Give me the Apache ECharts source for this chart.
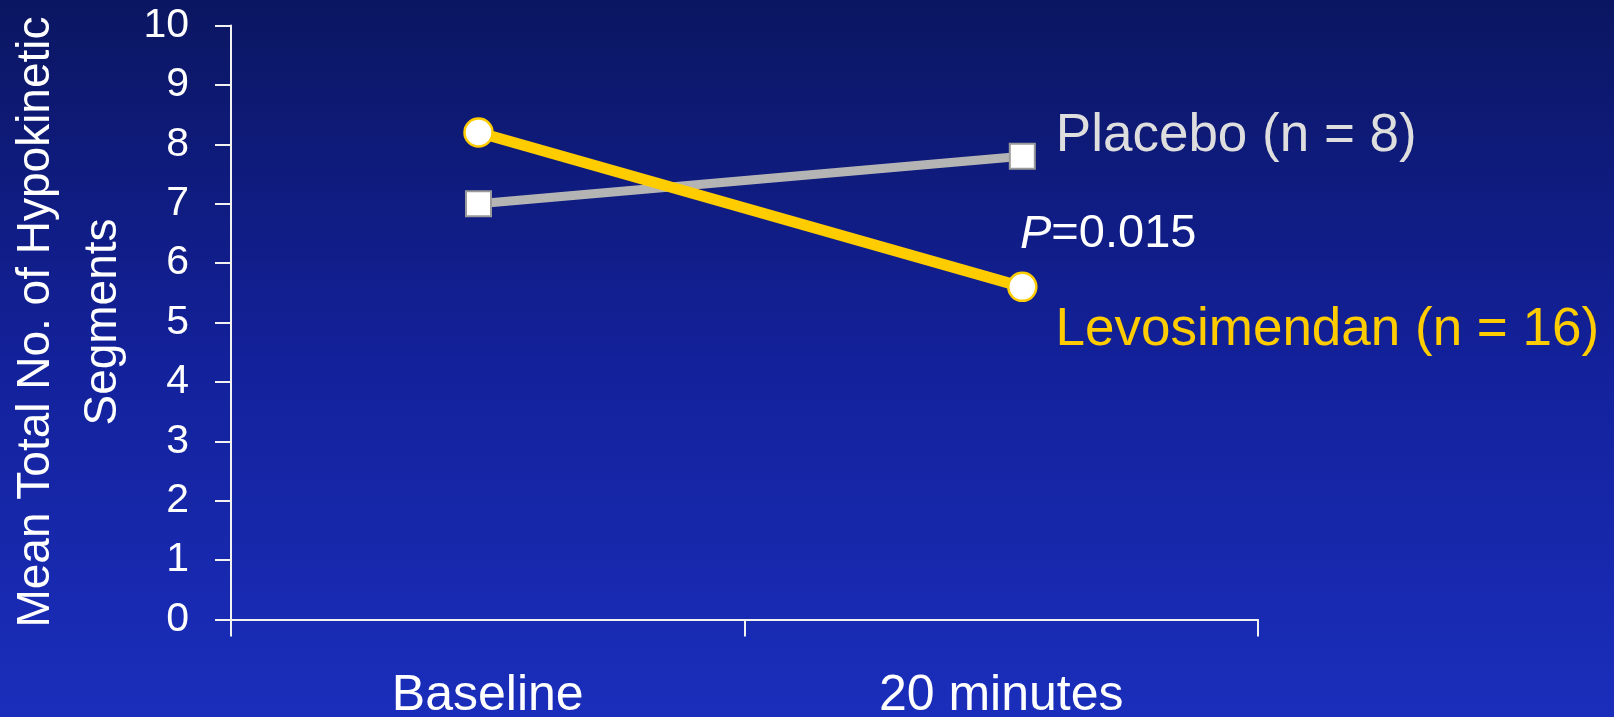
<!DOCTYPE html>
<html>
<head>
<meta charset="utf-8">
<title>Hypokinetic Segments</title>
<script src="https://cdn.jsdelivr.net/npm/echarts@6/dist/echarts.min.js"></script>
<style>
  html, body { margin: 0; padding: 0; }
  #chart { width: 1614px; height: 717px; }
</style>
</head>
<body>
<div id="chart"></div>
<script>
// Time points shown on the category axis
const categories = ['Baseline', '20 minutes'];
// Horizontal position of each measurement on a 0..2 time scale
const timePos = [0.482, 1.541];
// Mean total number of hypokinetic segments
const placeboValues = [7.0, 7.8];
const levoValues = [8.2, 5.6];
const yTicks = [0, 10, 1]; // min, max, step

const yTitle = 'Mean Total No. of Hypokinetic\nSegments';
const placeboName = 'Placebo (n = 8)';
const levoName = 'Levosimendan (n = 16)';
const pText = '0.015';

const FONT = '"Liberation Sans", Arial, Helvetica, sans-serif';
const YELLOW = '#FFCC00';
const GREY = '#B4B4B4';

const chart = echarts.init(document.getElementById('chart'));

function pairs(values) {
  return values.map((v, i) => [timePos[i], v]);
}

chart.setOption({
  animation: false,
  backgroundColor: {
    type: 'linear', x: 0, y: 0, x2: 0, y2: 1,
    colorStops: [
      { offset: 0, color: '#0B1661' },
      { offset: 0.5, color: '#13219A' },
      { offset: 1, color: '#1A2EBB' }
    ]
  },
  grid: {
    left: 231, right: 356, top: 25.5, bottom: 97.5,
    containLabel: false,
    outerBoundsMode: 'none'
  },
  xAxis: [
    {
      type: 'category',
      data: categories,
      boundaryGap: true,
      axisLine: { lineStyle: { color: '#F2F2F2', width: 2 } },
      axisTick: { show: true, length: 17, lineStyle: { color: '#F2F2F2', width: 2 } },
      axisLabel: { color: '#FFFFFF', fontSize: 50, fontFamily: FONT, margin: 52 }
    },
    {
      type: 'value', min: 0, max: 2, show: false
    }
  ],
  yAxis: {
    type: 'value',
    min: yTicks[0], max: yTicks[1], interval: yTicks[2],
    axisLine: { show: true, lineStyle: { color: '#F2F2F2', width: 2 } },
    axisTick: { show: true, length: 16, lineStyle: { color: '#F2F2F2', width: 2 } },
    axisLabel: { color: '#FFFFFF', fontSize: 41, fontFamily: FONT, margin: 42 },
    splitLine: { show: false }
  },
  series: [
    {
      name: placeboName,
      type: 'line',
      xAxisIndex: 1,
      data: pairs(placeboValues),
      symbol: 'rect',
      symbolSize: 25,
      lineStyle: { color: GREY, width: 9 },
      itemStyle: { color: '#FFFFFF', borderColor: '#9A9A9A', borderWidth: 2 },
      label: {
        show: true,
        position: 'right',
        formatter: (p) => p.dataIndex === placeboValues.length - 1 ? placeboName : '',
        color: '#DEDEDE', fontSize: 53, fontFamily: FONT,
        offset: [15, -20]
      },
      z: 2
    },
    {
      name: levoName,
      type: 'line',
      xAxisIndex: 1,
      data: pairs(levoValues),
      symbol: 'circle',
      symbolSize: 28,
      lineStyle: { color: YELLOW, width: 11 },
      itemStyle: { color: '#FFFFFF', borderColor: YELLOW, borderWidth: 2.5 },
      label: {
        show: true,
        position: 'right',
        formatter: (p) => p.dataIndex === levoValues.length - 1 ? levoName : '',
        color: YELLOW, fontSize: 53, fontFamily: FONT,
        offset: [13, 44]
      },
      z: 3
    }
  ],
  graphic: [
    {
      // vertical axis title, two centred lines reading bottom to top
      type: 'text',
      x: 70,
      y: 322,
      rotation: Math.PI / 2,
      style: {
        text: yTitle,
        align: 'center',
        verticalAlign: 'middle',
        fontSize: 46,
        lineHeight: 67,
        fontFamily: FONT,
        fill: '#FFFFFF'
      }
    },
    {
      type: 'text',
      left: 1020,
      top: 211,
      style: {
        text: '{p|P}{v|=' + pText + '}',
        rich: {
          p: { fontSize: 47, fontStyle: 'italic', fontFamily: FONT, fill: '#FFFFFF' },
          v: { fontSize: 47, fontFamily: FONT, fill: '#FFFFFF' }
        }
      }
    }
  ]
});
</script>
</body>
</html>
